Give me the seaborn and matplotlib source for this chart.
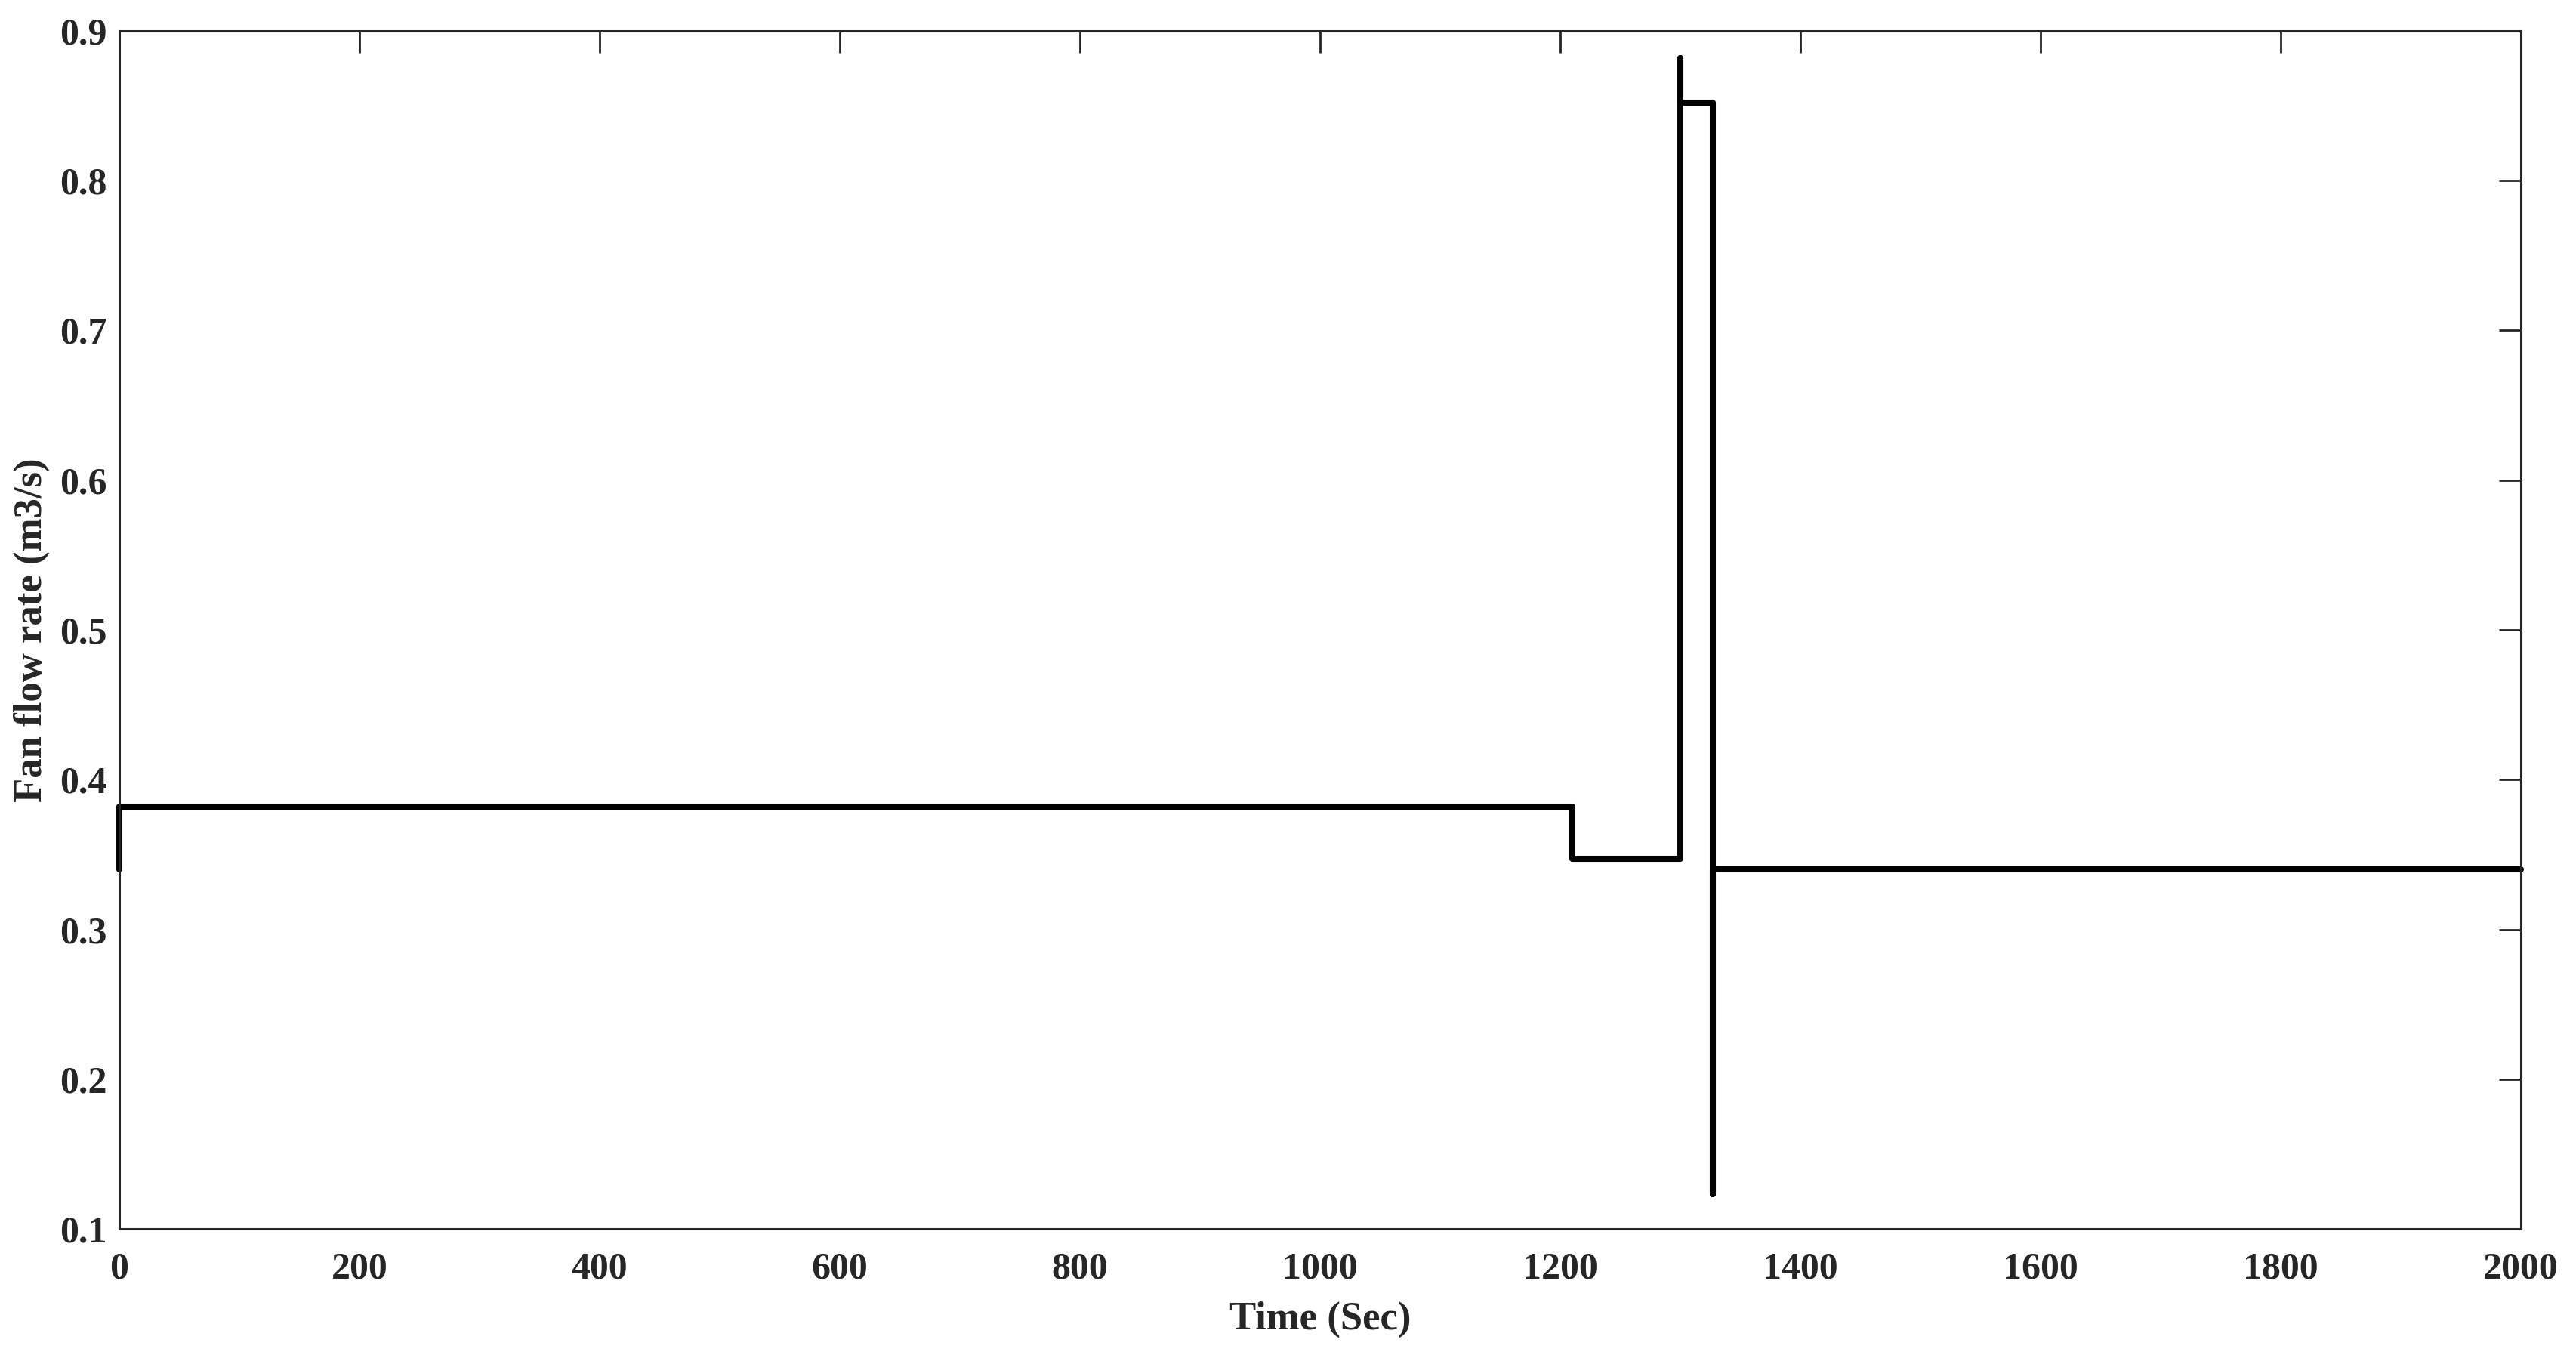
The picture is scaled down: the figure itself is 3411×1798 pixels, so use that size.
import pandas as pd
import matplotlib
matplotlib.use("Agg")
import matplotlib.pyplot as plt
import seaborn as sns

# step signal (time in s, flow in m3/s)
time = [0, 0, 1210, 1210, 1300, 1300, 1300, 1327, 1327, 1327, 2000]
flow = [0.340, 0.382, 0.382, 0.347, 0.347, 0.882, 0.852, 0.852, 0.123, 0.340, 0.340]
x_ticks = [0, 200, 400, 600, 800, 1000, 1200, 1400, 1600, 1800, 2000]
y_ticks = [0.1, 0.2, 0.3, 0.4, 0.5, 0.6, 0.7, 0.8, 0.9]

df = pd.DataFrame({"Time": time, "Flow": flow})

sns.set_style("white")
plt.rcParams["font.family"] = ["Liberation Serif", "DejaVu Serif"]
plt.rcParams["font.weight"] = "bold"

fig = plt.figure(figsize=(3411 / 200, 1798 / 200), dpi=200)
ax = fig.add_axes([0.0463, 0.0951, 0.9323, 0.8821])

sns.lineplot(data=df, x="Time", y="Flow", sort=False, estimator=None,
             color="black", linewidth=2.9, ax=ax, clip_on=False)

ax.set_xlim(0, 2000)
ax.set_ylim(0.1, 0.9)
ax.set_xticks(x_ticks)
ax.set_yticks(y_ticks)
ax.set_xticklabels([str(t) for t in x_ticks], fontsize=18, fontweight="bold")
ax.set_yticklabels([f"{t:.1f}" for t in y_ticks], fontsize=18, fontweight="bold")
ax.tick_params(direction="in", length=10.5, width=1.0, top=True, right=True)
ax.tick_params(axis="y", pad=6)
ax.tick_params(axis="x", pad=11)
for s in ax.spines.values():
    s.set_visible(True)
    s.set_color("#262626")
    s.set_linewidth(1.1)

ax.set_xlabel("Time (Sec)", fontsize=19, fontweight="bold", labelpad=7)
ax.set_ylabel("Fan flow rate (m3/s)", fontsize=19, fontweight="bold")
ax.yaxis.set_label_coords(-0.029, 0.5)

fig.savefig("out.png", dpi=200, facecolor="white")
